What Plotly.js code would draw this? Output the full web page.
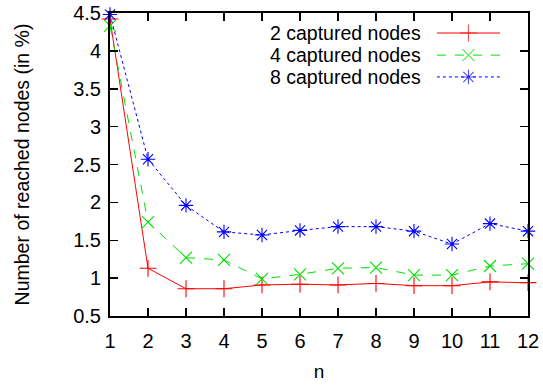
<!DOCTYPE html>
<html><head><meta charset="utf-8">
<script src="https://cdn.plot.ly/plotly-3.0.1.min.js"></script>
<style>html,body{margin:0;padding:0;background:#fff}</style>
</head><body>
<div id="chart" style="width:543px;height:385px"></div>
<script>
const nValues = [1,2,3,4,5,6,7,8,9,10,11,12];
const seriesNames = ["2 captured nodes","4 captured nodes","8 captured nodes"];
const captured2 = [4.42,1.13,0.86,0.86,0.91,0.92,0.91,0.93,0.90,0.90,0.95,0.94];
const captured4 = [4.33,1.74,1.27,1.24,0.99,1.05,1.13,1.14,1.04,1.04,1.16,1.19];
const captured8 = [4.48,2.57,1.96,1.61,1.57,1.63,1.68,1.68,1.62,1.45,1.72,1.62];
const yTicks = [0.5,1,1.5,2,2.5,3,3.5,4,4.5];

const styles = [
  {color:"#ff0000", dash:"solid", symbol:"cross-thin-open"},
  {color:"#00e000", dash:"dash", symbol:"x-thin-open"},
  {color:"#0000ff", dash:"dot", symbol:"asterisk-open"}
];
const allSeries = [captured2, captured4, captured8];
const font = "Liberation Sans, Arial, sans-serif";

const traces = allSeries.map((ys,i)=>({
  x: nValues, y: ys, type:"scatter", mode:"lines+markers", name: seriesNames[i],
  line:{color:styles[i].color, width:1, dash:styles[i].dash},
  marker:{symbol:styles[i].symbol, size:12, color:styles[i].color, line:{width:1.1, color:styles[i].color}},
  showlegend:false, cliponaxis:false
}));

// legend samples on an overlay axis (0..1 units)
const legendRowsY = [0.934, 0.861, 0.789];
const annotations = [];
styles.forEach((s,i)=>{
  traces.push({
    x:[0,0.5,1], y:[legendRowsY[i],legendRowsY[i],legendRowsY[i]], xaxis:"x2", yaxis:"y2",
    type:"scatter", mode:"lines+markers", showlegend:false, hoverinfo:"skip",
    line:{color:s.color, width:1, dash:s.dash},
    marker:{symbol:s.symbol, size:[0,12,0], color:s.color, line:{width:1.1, color:s.color}}
  });
  annotations.push({
    xref:"paper", yref:"paper", x:0.748, y:legendRowsY[i], xanchor:"right", yanchor:"middle",
    text: seriesNames[i], showarrow:false, font:{family:font, size:19.5, color:"#000"}
  });
});

const layout = {
  width:543, height:385,
  margin:{l:110, r:15, t:13, b:69},
  paper_bgcolor:"#fff", plot_bgcolor:"rgba(0,0,0,0)",
  font:{family:font, size:19, color:"#000"},
  showlegend:false,
  xaxis:{
    range:[1,12], tickvals:nValues, ticks:"inside", ticklen:8, tickwidth:1.5, tickcolor:"#000",
    showline:true, linewidth:2, linecolor:"#000", mirror:"allticks", showgrid:false, zeroline:false,
    ticklabelstandoff:6,
    title:{text:"n", font:{family:font, size:19}, standoff:14}, tickfont:{family:font, size:20}
  },
  yaxis:{
    range:[0.5,4.5], tickvals:yTicks, ticktext:yTicks.map(String), ticks:"inside", ticklen:8, tickwidth:1.5, tickcolor:"#000",
    showline:true, linewidth:2, linecolor:"#000", mirror:"allticks", showgrid:false, zeroline:false,
    ticklabelstandoff:3,
    title:{text:"Number of reached nodes (in %)", font:{family:font, size:19.5}, standoff:38}, tickfont:{family:font, size:20}
  },
  xaxis2:{domain:[0.782,0.933], range:[0,1], visible:false, anchor:"y2", fixedrange:true},
  yaxis2:{domain:[0,1], range:[0,1], visible:false, anchor:"x2", overlaying:"y", fixedrange:true},
  annotations: annotations
};
Plotly.newPlot("chart", traces, layout, {displayModeBar:false, staticPlot:true});
</script>
</body></html>
